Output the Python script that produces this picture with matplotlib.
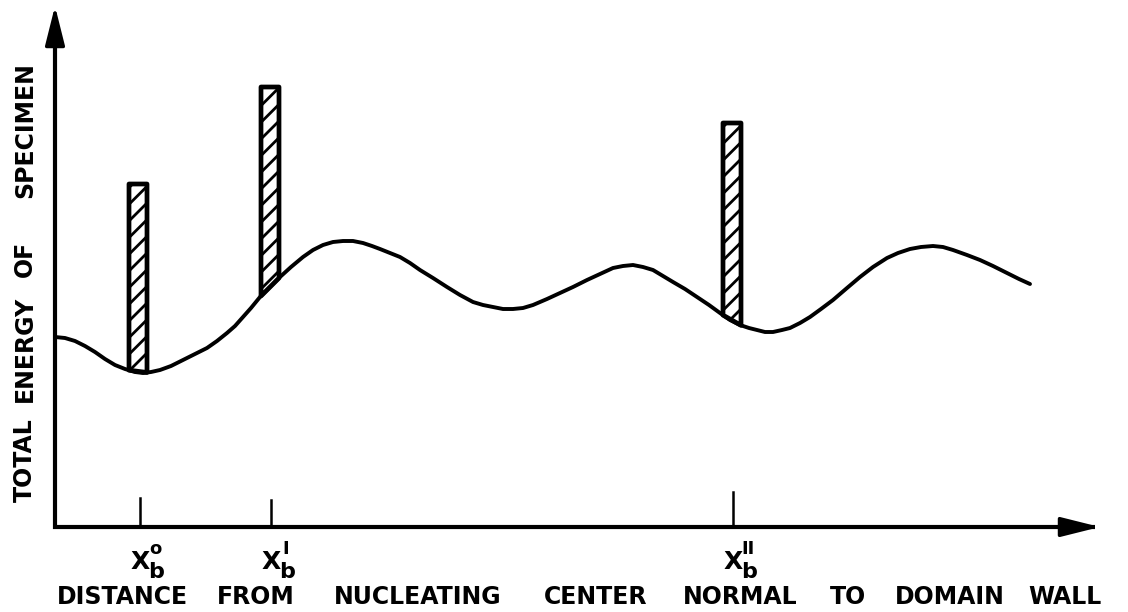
import numpy as np
import matplotlib
matplotlib.use("Agg")
import matplotlib.pyplot as plt

# energy curve (distance, energy above the x axis)
dist = [0, 10, 20, 30, 40, 50, 60, 70, 80, 88, 96, 105, 116, 128, 140, 152, 162, 172,
        180, 188, 196, 205, 215, 225, 236, 248, 258, 268, 278, 288, 298, 308, 317, 325,
        335, 345, 355, 365, 378, 392, 405, 418, 428, 438, 448, 458, 468, 478, 492, 505,
        518, 532, 545, 558, 568, 578, 588, 598, 608, 618, 630, 642, 654, 665, 675, 685,
        694, 702, 710, 718, 727, 735, 745, 755, 766, 778, 792, 805, 818, 832, 843, 855,
        866, 878, 888, 898, 912, 925, 938, 952, 964, 975]
energy = [190, 189, 186, 181, 175, 168, 162, 158, 155, 154, 155, 157, 161, 167, 173, 179,
          186, 194, 201, 210, 219, 230, 240, 250, 260, 270, 277, 282, 285, 286, 286, 284,
          281, 278, 274, 270, 264, 257, 249, 240, 232, 225, 222, 220, 218, 218, 219, 222,
          228, 234, 240, 247, 253, 259, 261, 262, 260, 257, 251, 245, 238, 230, 222, 214,
          207, 202, 199, 197, 195, 195, 197, 199, 204, 210, 218, 227, 239, 250, 260, 269,
          274, 278, 280, 281, 280, 277, 272, 267, 261, 254, 248, 243]

# barriers: position on the distance axis and top of the hatched column
bar_pos = [83, 215, 677]
bar_top = [343, 440, 404]

# marked positions on the distance axis
tick_pos = [85, 216, 678]
tick_len = [29, 27, 35]
tick_sup = ['o', 'I', 'II']

xwords = ['DISTANCE', 'FROM', 'NUCLEATING', 'CENTER', 'NORMAL', 'TO', 'DOMAIN', 'WALL']
xword_pos = [67, 201, 363, 541, 685, 793, 895, 1010]
ywords = ['TOTAL', 'ENERGY', 'OF', 'SPECIMEN']
yword_pos = [67, 178, 268, 397]

plt.rcParams['hatch.linewidth'] = 2.0
font = dict(family='DejaVu Sans', fontweight='bold', color='black')

fig = plt.figure(figsize=(11.28, 6.12), dpi=100)
ax = fig.add_axes([0, 0, 1, 1])
ax.set_xlim(-55, 1073)
ax.set_ylim(-85, 527)
ax.axis('off')

# axes with arrow heads
ax.plot([0, 0, 1040], [500, 0, 0], color='black', lw=3, solid_joinstyle='miter',
        solid_capstyle='butt')
arrow = dict(arrowstyle='-|>,head_length=1.2,head_width=0.3', lw=2.5, color='black',
             mutation_scale=20, shrinkA=0, shrinkB=0)
ax.annotate('', xy=(0, 521), xytext=(0, 470), arrowprops=arrow)
ax.annotate('', xy=(1045, 0), xytext=(1000, 0), arrowprops=arrow)

# curve
ax.plot(dist, energy, color='black', lw=2.8, solid_capstyle='round',
        solid_joinstyle='round', zorder=2)

# hatched barriers sitting on the curve
bw = 18
for p, t in zip(bar_pos, bar_top):
    xs = [p - bw / 2, p + bw / 2]
    base = np.interp(xs, dist, energy)
    ax.fill_between(xs, base, [t, t], facecolor='white', edgecolor='black',
                    hatch='//', lw=3.4, zorder=3)

# ticks and their labels
for p, h, s in zip(tick_pos, tick_len, tick_sup):
    ax.plot([p, p], [0, h], color='black', lw=1.8)
    ax.text(p, -35, 'X', fontsize=18, ha='center', va='center', **font)
    ax.text(p + 16, -45, 'b', fontsize=16, ha='center', va='center', **font)
    ax.text(p + 15, -22, s, fontsize=13, ha='center', va='center', **font)

for w, p in zip(xwords, xword_pos):
    ax.text(p, -70, w, fontsize=17, ha='center', va='center', **font)
for w, p in zip(ywords, yword_pos):
    ax.text(-30, p, w, fontsize=17, ha='center', va='center', rotation=90, **font)

fig.savefig('out.png', dpi=100, facecolor='white')
